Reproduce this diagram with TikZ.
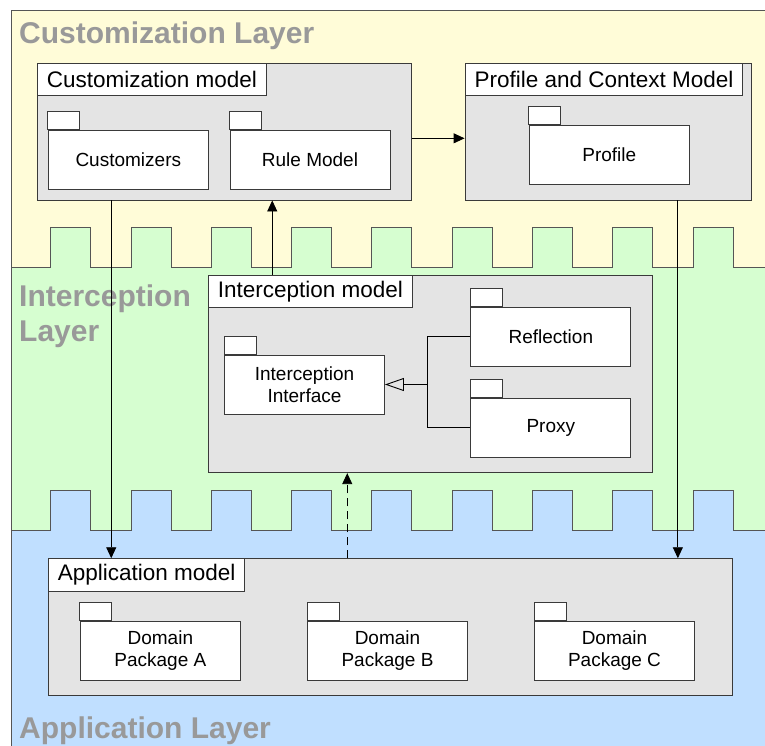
\documentclass[tikz,border=0pt]{standalone}
\usepackage{fontspec}
\setmainfont{Liberation Sans}
\usetikzlibrary{arrows.meta,calc}

\definecolor{layerY}{HTML}{FFFCD8}
\definecolor{layerG}{HTML}{D6FED0}
\definecolor{layerB}{HTML}{C0DFFF}
\definecolor{boxgray}{HTML}{E4E4E4}
\definecolor{boxline}{HTML}{3A3A3A}
\definecolor{edgeline}{HTML}{555555}
\definecolor{labelgray}{HTML}{999999}

% crenellated border between two layers: base line y=#1, tooth tops y=#2
\newcommand{\crenelpath}[2]{(11,#1) \foreach \k in {0,...,8}{ -- ({50.7+80.3*\k},#1) -- ({50.7+80.3*\k},#2) -- ({90.7+80.3*\k},#2) -- ({90.7+80.3*\k},#1)} -- (770,#1)}

\begin{document}
\begin{tikzpicture}[x=1pt,y=-1pt,
  layerline/.style={draw=edgeline,line width=1pt},
  layerlabel/.style={font=\fontsize{30}{36}\selectfont\bfseries,text=labelgray,anchor=base west,inner sep=0},
  container/.style={draw=boxline,fill=boxgray,line width=0.9pt,inner sep=0},
  header/.style={draw=boxline,fill=white,line width=0.9pt,anchor=north west,minimum height=32.4pt,inner xsep=9.5pt,inner ysep=0,font=\fontsize{22.5}{27}\selectfont},
  pkg/.style={draw=boxline,fill=white,line width=0.9pt,minimum width=160pt,minimum height=59pt,inner sep=0,align=center,font=\fontsize{19}{21.7}\selectfont},
  tab/.style={draw=boxline,fill=white,line width=0.9pt},
  conn/.style={draw=black,line width=0.9pt},
  arr/.style={conn,-{Triangle[length=11pt,width=10pt]}},
  dasharr/.style={arr,dash pattern=on 8pt off 5pt},
  genarr/.style={conn,-{Triangle[open,length=19pt,width=13pt]}}
]
\useasboundingbox (0,0) rectangle (765,745);

% layer backgrounds
\begin{scope}
  \clip (0,0) rectangle (765,745);
  \fill[layerY] (11,10) rectangle (770,750);
  \fill[layerG] \crenelpath{267}{227} -- (770,750) -- (11,750) -- cycle;
  \fill[layerB] \crenelpath{530}{490} -- (770,750) -- (11,750) -- cycle;
  \draw[layerline] \crenelpath{267}{227};
  \draw[layerline] \crenelpath{530}{490};
  \draw[layerline] (11,750) -- (11,10) -- (770,10);
\end{scope}

% layer titles
\node[layerlabel] (lblcust) at (19,43.3) {Customization Layer};
\node[layerlabel] (lblint1) at (19,306) {Interception};
\node[layerlabel] (lblint2) at (19,341.7) {Layer};
\node[layerlabel] (lblapp) at (19,738.5) {Application Layer};

% containers
\node[container,minimum width=374.4pt,minimum height=136.7pt] (custmodel) at (224.5,131.65) {};
\node[header] (custhead) at (custmodel.north west) {Customization model};
\node[container,minimum width=286.7pt,minimum height=136.7pt] (profmodel) at (608.35,131.65) {};
\node[header] (profhead) at (profmodel.north west) {Profile and Context Model};
\node[container,minimum width=444pt,minimum height=197.7pt] (intmodel) at (430.3,373.85) {};
\node[header] (inthead) at (intmodel.north west) {Interception model};
\node[container,minimum width=684pt,minimum height=136.3pt] (appmodel) at (390.3,626.85) {};
\node[header] (apphead) at (appmodel.north west) {Application model};

% packages
\node[pkg] (custz) at (128.3,159.65) {Customizers};
\node[pkg] (rules) at (310,159.65) {Rule Model};
\node[pkg] (profile) at (609.3,154.5) {Profile};
\node[pkg] (iface) at (304.5,384.5) {Interception\\Interface};
\node[pkg] (refl) at (550.85,336.65) {Reflection};
\node[pkg] (proxy) at (550.85,427.5) {Proxy};
\node[pkg] (doma) at (160.35,650.85) {Domain\\Package A};
\node[pkg] (domb) at (387.5,650.85) {Domain\\Package B};
\node[pkg] (domc) at (614.5,650.85) {Domain\\Package C};
\foreach \n in {custz,rules,profile,iface,refl,proxy,doma,domb,domc}
  \draw[tab] (\n.north west) rectangle ++(32,-18.5);

% connectors
\draw[arr] ($(custmodel.east)+(0,6.65)$) -- ($(profmodel.west)+(0,6.65)$);
\draw[arr] ($(custmodel.south west)+(74.4,0)$) coordinate (c1) -- (c1 |- appmodel.north);
\draw[arr] ($(profmodel.south west)+(213.3,0)$) coordinate (c2) -- (c2 |- appmodel.north);
\draw[arr] ($(intmodel.north west)+(64.4,0)$) coordinate (c3) -- (c3 |- custmodel.south);
\draw[dasharr] ($(appmodel.north west)+(299.4,0)$) coordinate (c4) -- (c4 |- intmodel.south);

% generalization of Reflection and Proxy
\coordinate (gj) at (427.3,384.5);
\draw[conn] (refl.west) -| (gj) |- (proxy.west);
\draw[genarr] (gj) -- (iface.east);
\end{tikzpicture}
\end{document}
